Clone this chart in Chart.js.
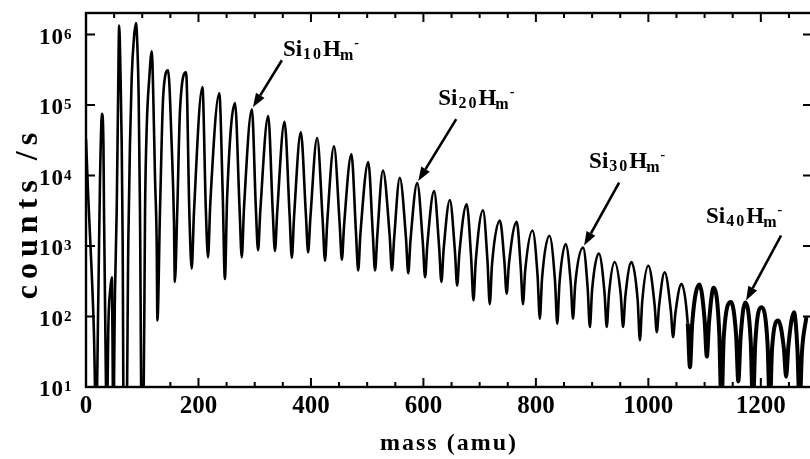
<!DOCTYPE html>
<html>
<head>
<meta charset="utf-8">
<script src="https://cdn.jsdelivr.net/npm/chart.js@4.4.0/dist/chart.umd.min.js"></script>
<style>
  html, body { margin: 0; padding: 0; background: #fff; overflow: hidden; }
  #wrap { position: relative; width: 815px; height: 459px; }
</style>
</head>
<body>
<div id="wrap"><canvas id="spectrum"></canvas></div>
<script>
// peak maxima of the Si_n H_m- clusters, n = 1 .. 44 (mass in amu, counts/s)
const peakMass = [28.5, 59, 89, 117, 146, 178, 207, 237, 265, 295, 324, 353, 382, 411, 441,
  472, 502, 528, 558, 589, 619, 647, 677, 706, 736, 766, 794, 824, 853, 884,
  912, 940, 970, 1000, 1029, 1059, 1091, 1116, 1147, 1172, 1201, 1231, 1259, 1281];
const peakCounts = [7.5e4, 1.34e6, 1.45e6, 5.8e5, 3.1e5, 2.9e5, 1.8e5, 1.47e5, 1.07e5, 8.7e4,
  7.0e4, 5.8e4, 4.1e4, 3.4e4, 2.6e4, 2.0e4, 1.55e4, 1.18e4, 9300, 7800,
  6000, 4500, 3900, 3200, 2300, 2200, 1660, 1400, 1070, 950,
  780, 590, 590, 525, 425, 290, 285, 255, 160, 158, 135, 88, 115, 98];

// minima between neighbouring clusters, from n = 4|5 on
const valleyMass = [127, 158, 188, 217, 247, 277, 306, 336, 366, 395,
  425, 455, 484, 514, 544, 573, 603, 632, 660, 689,
  718, 748, 777, 807, 838, 866, 896, 926, 955, 985,
  1015, 1044, 1074, 1104, 1130, 1160, 1186, 1216, 1245, 1269];
const valleyCounts = [88, 310, 480, 690, 340, 690, 870, 850, 680, 815,
  620, 640, 450, 450, 450, 410, 360, 310, 275, 170,
  150, 210, 150, 93, 79, 93, 71, 71, 71, 46,
  60, 51, 19, 27, 5, 12, 5, 5, 14, 5];

// the walls just either side of each valley, where the dips turn narrow
const shoulderMass = [184, 192, 213, 221, 243, 251, 273, 281, 302, 310, 332, 340, 362, 370,
  391, 399, 421, 429, 451, 459, 480, 488, 510, 518, 540, 548, 569, 577, 599, 607,
  628, 636, 656, 664, 685, 693, 714, 722, 744, 752, 773, 781, 803, 811, 834, 842,
  862, 870, 892, 900, 922, 930, 951, 959, 981, 989, 1011, 1019, 1040, 1048,
  1070, 1078, 1100, 1108, 1126, 1134, 1156, 1164, 1182, 1190, 1212, 1220,
  1241, 1249, 1265, 1273];
const shoulderCounts = [2500, 3000, 3500, 4000, 6000, 5000, 3500, 3500, 3500, 3200, 3200, 3000, 2800, 2600,
  2800, 2500, 2200, 2200, 2100, 2000, 1600, 1500, 1500, 1400, 1400, 1300, 1300, 1200, 1100, 1050,
  950, 900, 850, 800, 650, 600, 600, 550, 600, 550, 500, 450, 380, 350, 320, 300,
  300, 290, 260, 240, 220, 210, 200, 190, 170, 160, 150, 140, 120, 110,
  80, 80, 90, 85, 60, 50, 55, 50, 45, 40, 40, 35,
  35, 38, 35, 30];

// flanks of the big low-mass peaks (values under 10 run off the bottom)
const flankMass = [0, 4, 10, 14, 18, 22, 25, 31, 32, 34, 37, 40, 43, 46, 47, 48.5,
  51.6, 54.6, 57, 61.5, 63.5, 65.2, 67, 72, 75.2, 78.2, 81.2, 85.3,
  91.2, 93.6, 96, 99, 102, 105, 108, 112.5, 119.6, 122.7, 125.7,
  131.6, 137.4, 152.3, 156.4, 162.3, 167.1];
const flankCounts = [3.3e4, 4900, 450, 63, 3, 210, 9500, 2.8e4, 3200, 122, 3, 88, 235, 360, 63, 3,
  235, 3200, 1.15e5, 2.4e5, 2.8e4, 1100, 3, 3, 1100, 2.8e4, 2.4e5, 9e5,
  7.4e5, 1.4e5, 3200, 3, 3, 3200, 4.9e4, 2.4e5, 1.4e5, 9500, 1100,
  3200, 1.4e5, 2.8e4, 2300, 3200, 8.3e4];

const xTickLabels = [0, 200, 400, 600, 800, 1000, 1200];
const yDecades = [1, 2, 3, 4, 5, 6];
const labelClusters = [10, 20, 30, 40];

const SERIF = '"Liberation Serif", "Times New Roman", serif';

function buildTrace() {
  const pts = [];
  const add = (ms, cs) => ms.forEach((m, i) => pts.push({ x: m, y: cs[i] }));
  add(peakMass, peakCounts);
  add(valleyMass, valleyCounts);
  add(shoulderMass, shoulderCounts);
  add(flankMass, flankCounts);
  pts.sort((a, b) => a.x - b.x);
  return pts;
}

// where the arrow tails and the label text sit, relative to the arrow tip (px)
const labelLayout = [
  { textDx: 30, textDy: -51, tailDx: 29, tailDy: -47 },
  { textDx: 20, textDy: -76, tailDx: 38, tailDy: -62 },
  { textDx: 5, textDy: -78, tailDx: 35, tailDy: -63 },
  { textDx: -40, textDy: -78, tailDx: 35, tailDy: -65 }
];

function drawClusterLabel(ctx, x, y, n) {
  const big = 'bold 23px ' + SERIF;
  const small = 'bold 16px ' + SERIF;
  let cx = x;
  ctx.textAlign = 'left';
  ctx.textBaseline = 'alphabetic';
  ctx.font = big;
  ctx.fillText('Si', cx, y);
  cx += ctx.measureText('Si').width + 1;
  ctx.font = small;
  ctx.letterSpacing = '2px';
  ctx.fillText(String(n), cx, y + 3);
  cx += ctx.measureText(String(n)).width;
  ctx.letterSpacing = '0px';
  ctx.font = big;
  ctx.fillText('H', cx, y);
  cx += ctx.measureText('H').width - 1;
  ctx.font = small;
  ctx.fillText('m', cx, y + 4);
  cx += ctx.measureText('m').width + 1;
  ctx.font = 'bold 14px ' + SERIF;
  ctx.fillText('-', cx, y - 9);
}

function drawArrow(ctx, x0, y0, x1, y1) {
  const ang = Math.atan2(y1 - y0, x1 - x0);
  const head = 14, half = 5;
  const bx = x1 - head * Math.cos(ang), by = y1 - head * Math.sin(ang);
  ctx.lineWidth = 2.6;
  ctx.beginPath();
  ctx.moveTo(x0, y0);
  ctx.lineTo(bx, by);
  ctx.stroke();
  ctx.beginPath();
  ctx.moveTo(x1, y1);
  ctx.lineTo(bx + half * Math.sin(ang), by - half * Math.cos(ang));
  ctx.lineTo(bx - half * Math.sin(ang), by + half * Math.cos(ang));
  ctx.closePath();
  ctx.fill();
}

const framePlugin = {
  id: 'frame',
  afterDraw(chart) {
    const ctx = chart.ctx;
    const a = chart.chartArea;
    const xs = chart.scales.x, ys = chart.scales.y;
    ctx.save();
    ctx.strokeStyle = '#000';
    ctx.fillStyle = '#000';

    // box and inward ticks on all four sides
    ctx.lineWidth = 2.4;
    ctx.strokeRect(a.left, a.top, a.right - a.left, a.bottom - a.top);
    ctx.lineWidth = 2;
    ctx.beginPath();
    for (let m = 0; m <= xs.max; m += 50) {
      const px = xs.getPixelForValue(m);
      const len = m % 200 === 0 ? 9 : 5;
      ctx.moveTo(px, a.bottom); ctx.lineTo(px, a.bottom - len);
      ctx.moveTo(px, a.top); ctx.lineTo(px, a.top + len);
    }
    yDecades.forEach(d => {
      const py = ys.getPixelForValue(Math.pow(10, d));
      ctx.moveTo(a.left, py); ctx.lineTo(a.left + 9, py);
      ctx.moveTo(a.right, py); ctx.lineTo(a.right - 9, py);
    });
    ctx.stroke();

    // x tick labels
    ctx.font = 'bold 25px ' + SERIF;
    ctx.textAlign = 'center';
    ctx.textBaseline = 'alphabetic';
    xTickLabels.forEach(v => {
      ctx.fillText(String(v), xs.getPixelForValue(v), 413);
    });

    // y tick labels 10^n
    ctx.textAlign = 'left';
    yDecades.forEach(d => {
      const py = ys.getPixelForValue(Math.pow(10, d));
      ctx.font = 'bold 23px ' + SERIF;
      ctx.letterSpacing = '1px';
      ctx.fillText('10', 39, py + 9);
      const w = ctx.measureText('10').width;
      ctx.letterSpacing = '0px';
      ctx.font = 'bold 15px ' + SERIF;
      ctx.fillText(String(d), 39 + w, py + 4);
    });

    // axis titles
    ctx.font = 'bold 24px ' + SERIF;
    ctx.letterSpacing = '2px';
    ctx.textAlign = 'center';
    ctx.fillText('mass (amu)', 449, 450);
    ctx.save();
    ctx.translate(37, 213);
    ctx.rotate(-Math.PI / 2);
    ctx.font = 'bold 32px ' + SERIF;
    ctx.letterSpacing = '6px';
    ctx.fillText('counts /s', 0, 0);
    ctx.restore();
    ctx.letterSpacing = '0px';

    // cluster labels with arrows
    labelClusters.forEach((n, i) => {
      const lay = labelLayout[i];
      const tx = xs.getPixelForValue(peakMass[n - 1]) + 1;
      const ty = ys.getPixelForValue(peakCounts[n - 1]) - 2;
      drawArrow(ctx, tx + lay.tailDx, ty + lay.tailDy, tx, ty);
      drawClusterLabel(ctx, tx + lay.textDx, ty + lay.textDy, n);
    });
    ctx.restore();
  }
};

const ctx = document.getElementById('spectrum').getContext('2d');
const chart = new Chart(ctx, {
  type: 'line',
  data: {
    datasets: [{
      label: 'counts',
      data: buildTrace(),
      borderColor: '#000',
      borderWidth: 2.6,
      pointRadius: 0,
      cubicInterpolationMode: 'monotone',
      fill: false,
      segment: {
        // the high-mass end of the scan is a dense, noisy band
        borderWidth: c => (c.p0.parsed.x > 1060 ? 4 : 2.6)
      }
    }]
  },
  options: {
    responsive: true,
    maintainAspectRatio: false,
    animation: false,
    layout: { padding: { left: 86, right: 3, top: 13, bottom: 72 } },
    plugins: { legend: { display: false }, tooltip: { enabled: false } },
    scales: {
      x: { type: 'linear', min: 0, max: 1291, display: false },
      y: { type: 'logarithmic', min: 10, max: 2.02e6, display: false }
    }
  },
  plugins: [framePlugin]
});
</script>
</body>
</html>
